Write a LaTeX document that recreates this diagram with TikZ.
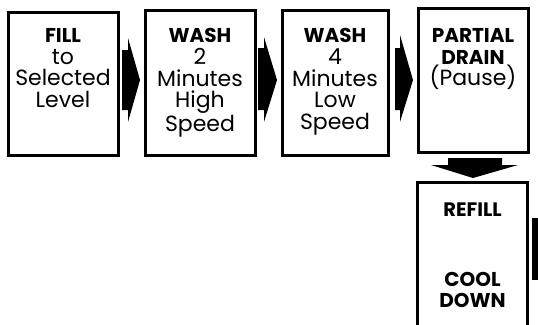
\documentclass[tikz,border=0pt]{standalone}
\usepackage{fontspec}
\setmainfont{Poppins}
\newcommand{\hd}[1]{{\fontsize{20}{21.8}\selectfont\bfseries #1}}
\begin{document}
\begin{tikzpicture}[x=1pt,y=-1pt,
  stepbox/.style={draw=black,line width=3pt,inner sep=0pt},
  boxtext/.style={anchor=north,align=center,inner sep=0pt,
    font=\fontsize{22}{21.8}\selectfont},
  blockarrow/.style={fill=black,draw=none}]
\useasboundingbox (0,0) rectangle (538,324);
\clip (0,0) rectangle (538,324);
% boxes
\node[stepbox,minimum width=110pt,minimum height=143pt] (b1) at (63,83.5) {};
\node[stepbox,minimum width=110pt,minimum height=145pt] (b2) at (200,82.5) {};
\node[stepbox,minimum width=106pt,minimum height=145pt] (b3) at (335,82.5) {};
\node[stepbox,minimum width=110pt,minimum height=144pt] (b4) at (473,80) {};
\node[stepbox,minimum width=110pt,minimum height=170pt] (b5) at (472.5,267) {};
% texts
\node[boxtext] (t1) at (63,28) {\hd{FILL}\\to\\Selected\\Level};
\node[boxtext] (t2) at (200,28) {\hd{WASH}\\2\\Minutes\\High\\Speed};
\node[boxtext] (t3) at (335,28) {\hd{WASH}\\4\\Minutes\\Low\\Speed};
\node[boxtext] (t4) at (473,28) {\hd{PARTIAL}\\\hd{DRAIN}\\(Pause)};
\node[boxtext,font=\fontsize{19.5}{20}\selectfont\bfseries] (t5) at (472.5,203) {REFILL};
\node[boxtext,font=\fontsize{20}{21}\selectfont\bfseries] (t6) at (472.5,272) {COOL\\DOWN};
% block arrows
\fill[blockarrow] (122,50) -- (128,50) -- (128,38) -- (140,80) -- (128,122) -- (128,110) -- (122,110) -- cycle;
\fill[blockarrow] (258,48) -- (264,48) -- (264,37) -- (277,80) -- (264,122) -- (264,110) -- (258,110) -- cycle;
\fill[blockarrow] (395,48) -- (400,48) -- (400,35) -- (413,80) -- (400,122) -- (400,110) -- (395,110) -- cycle;
\fill[blockarrow] (448,158) -- (502,158) -- (502,165) -- (518,165) -- (473,178) -- (431,165) -- (448,165) -- cycle;
\fill[blockarrow] (532,218) rectangle (538,280);
\end{tikzpicture}
\end{document}
